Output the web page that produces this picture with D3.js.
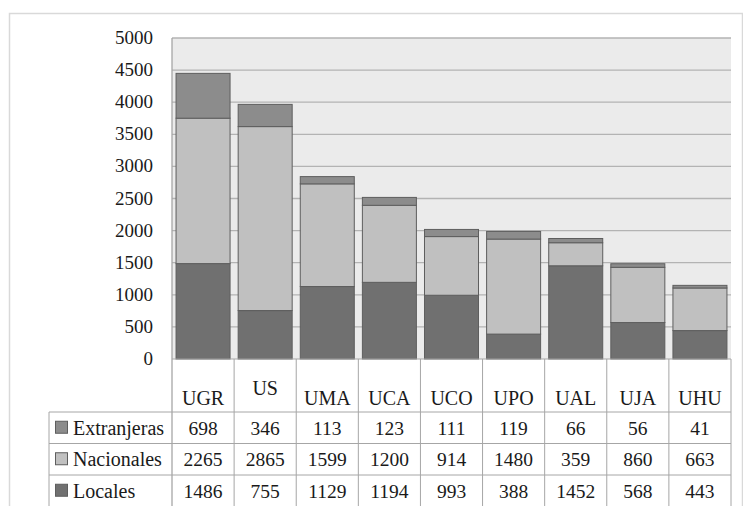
<!DOCTYPE html>
<html><head><meta charset="utf-8">
<script src="https://cdn.jsdelivr.net/npm/d3@7"></script>
</head><body style="margin:0;background:#fff">
<svg id="s" width="743" height="506" style="display:block;font-family:'Liberation Serif'"></svg>
<script>
const categories = ["UGR", "US", "UMA", "UCA", "UCO", "UPO", "UAL", "UJA", "UHU"];
const seriesNames = ["Extranjeras", "Nacionales", "Locales"];
const extranjeras = [698, 346, 113, 123, 111, 119, 66, 56, 41];
const nacionales = [2265, 2865, 1599, 1200, 914, 1480, 359, 860, 663];
const locales = [1486, 755, 1129, 1194, 993, 388, 1452, 568, 443];
const yTicks = [0, 500, 1000, 1500, 2000, 2500, 3000, 3500, 4000, 4500, 5000];

const colors = { Extranjeras: "#8c8c8c", Nacionales: "#c0c0c0", Locales: "#707070" };
const seriesValues = { Extranjeras: extranjeras, Nacionales: nacionales, Locales: locales };
const tstyle = sz => `font-family:'Liberation Serif';font-size:${sz}px;fill:#1a1a1a`;

const svg = d3.select("#s");
const plotL = 172, plotR = 731, plotT = 38, plotB = 359;
const tableL = 49;
const rowTops = [412, 443.5, 475, 506.5];

svg.append("rect").attr("x", 9.5).attr("y", 13.5).attr("width", 733).attr("height", 520)
  .attr("fill", "#fff").attr("stroke", "#d9d9d9").attr("stroke-width", 1.5);

const xCat = d3.scaleBand().domain(categories).range([plotL, plotR]).padding(0);
const barW = xCat.bandwidth() / 1.15;
const y = d3.scaleLinear().domain([0, 5000]).range([plotB, plotT]);

svg.append("rect").attr("x", plotL).attr("y", plotT).attr("width", plotR - plotL).attr("height", plotB - plotT)
  .attr("fill", "#ebebeb");

svg.append("g").selectAll("line").data(yTicks.filter(d => d > 0)).join("line")
  .attr("x1", plotL).attr("x2", plotR)
  .attr("y1", d => y(d)).attr("y2", d => y(d))
  .attr("stroke", "#b3b3b3").attr("stroke-width", 1.3);

// y-axis labels positioned through the scale
yTicks.forEach(t => {
  svg.append("text")
    .attr("x", plotL - 19)
    .attr("y", y(t))
    .attr("dy", "0.32em")
    .attr("text-anchor", "end")
    .attr("style", tstyle(19))
    .text(d3.format("d")(t));
});

const rows = categories.map((c, i) => ({ cat: c, Extranjeras: extranjeras[i], Nacionales: nacionales[i], Locales: locales[i] }));
const stacked = d3.stack().keys(["Locales", "Nacionales", "Extranjeras"])(rows);
svg.append("g").selectAll("g").data(stacked).join("g")
  .attr("fill", d => colors[d.key])
  .selectAll("rect").data(d => d).join("rect")
  .attr("x", d => xCat(d.data.cat) + (xCat.bandwidth() - barW) / 2)
  .attr("width", barW)
  .attr("y", d => y(d[1]))
  .attr("height", d => y(d[0]) - y(d[1]))
  .attr("stroke", "#5e5e5e").attr("stroke-width", 1);

svg.append("line").attr("x1", plotL).attr("x2", plotL).attr("y1", plotT).attr("y2", rowTops[3])
  .attr("stroke", "#a6a6a6").attr("stroke-width", 1.3);
svg.append("line").attr("x1", plotL).attr("x2", plotR).attr("y1", plotB).attr("y2", plotB)
  .attr("stroke", "#a6a6a6").attr("stroke-width", 1);

categories.forEach(c => {
  svg.append("line")
    .attr("x1", xCat(c) + xCat.bandwidth()).attr("x2", xCat(c) + xCat.bandwidth())
    .attr("y1", plotB).attr("y2", rowTops[3])
    .attr("stroke", "#a6a6a6").attr("stroke-width", 1);
});
svg.append("line").attr("x1", tableL).attr("x2", tableL).attr("y1", rowTops[0]).attr("y2", rowTops[3])
  .attr("stroke", "#a6a6a6").attr("stroke-width", 1);
rowTops.forEach(r => {
  svg.append("line").attr("x1", tableL).attr("x2", plotR).attr("y1", r).attr("y2", r)
    .attr("stroke", "#a6a6a6").attr("stroke-width", 1);
});

const raised = new Set(["US"]);
categories.forEach(c => {
  svg.append("text")
    .attr("x", xCat(c) + xCat.bandwidth() / 2)
    .attr("y", raised.has(c) ? 395 : 405)
    .attr("text-anchor", "middle")
    .attr("style", tstyle(20))
    .text(c);
});

seriesNames.forEach((s, ri) => {
  const cy = (rowTops[ri] + rowTops[ri + 1]) / 2;
  svg.append("rect").attr("x", 55.5).attr("y", cy - 6.5).attr("width", 12).attr("height", 12)
    .attr("fill", colors[s]).attr("stroke", "#5e5e5e").attr("stroke-width", 1);
  svg.append("text").attr("x", 73).attr("y", cy + 7)
    .attr("style", tstyle(20)).text(s);
  categories.forEach((c, i) => {
    svg.append("text")
      .attr("x", xCat(c) + xCat.bandwidth() / 2)
      .attr("y", cy + 7)
      .attr("text-anchor", "middle")
      .attr("style", tstyle(19.5))
      .text(seriesValues[s][i]);
  });
});
</script>
</body></html>
